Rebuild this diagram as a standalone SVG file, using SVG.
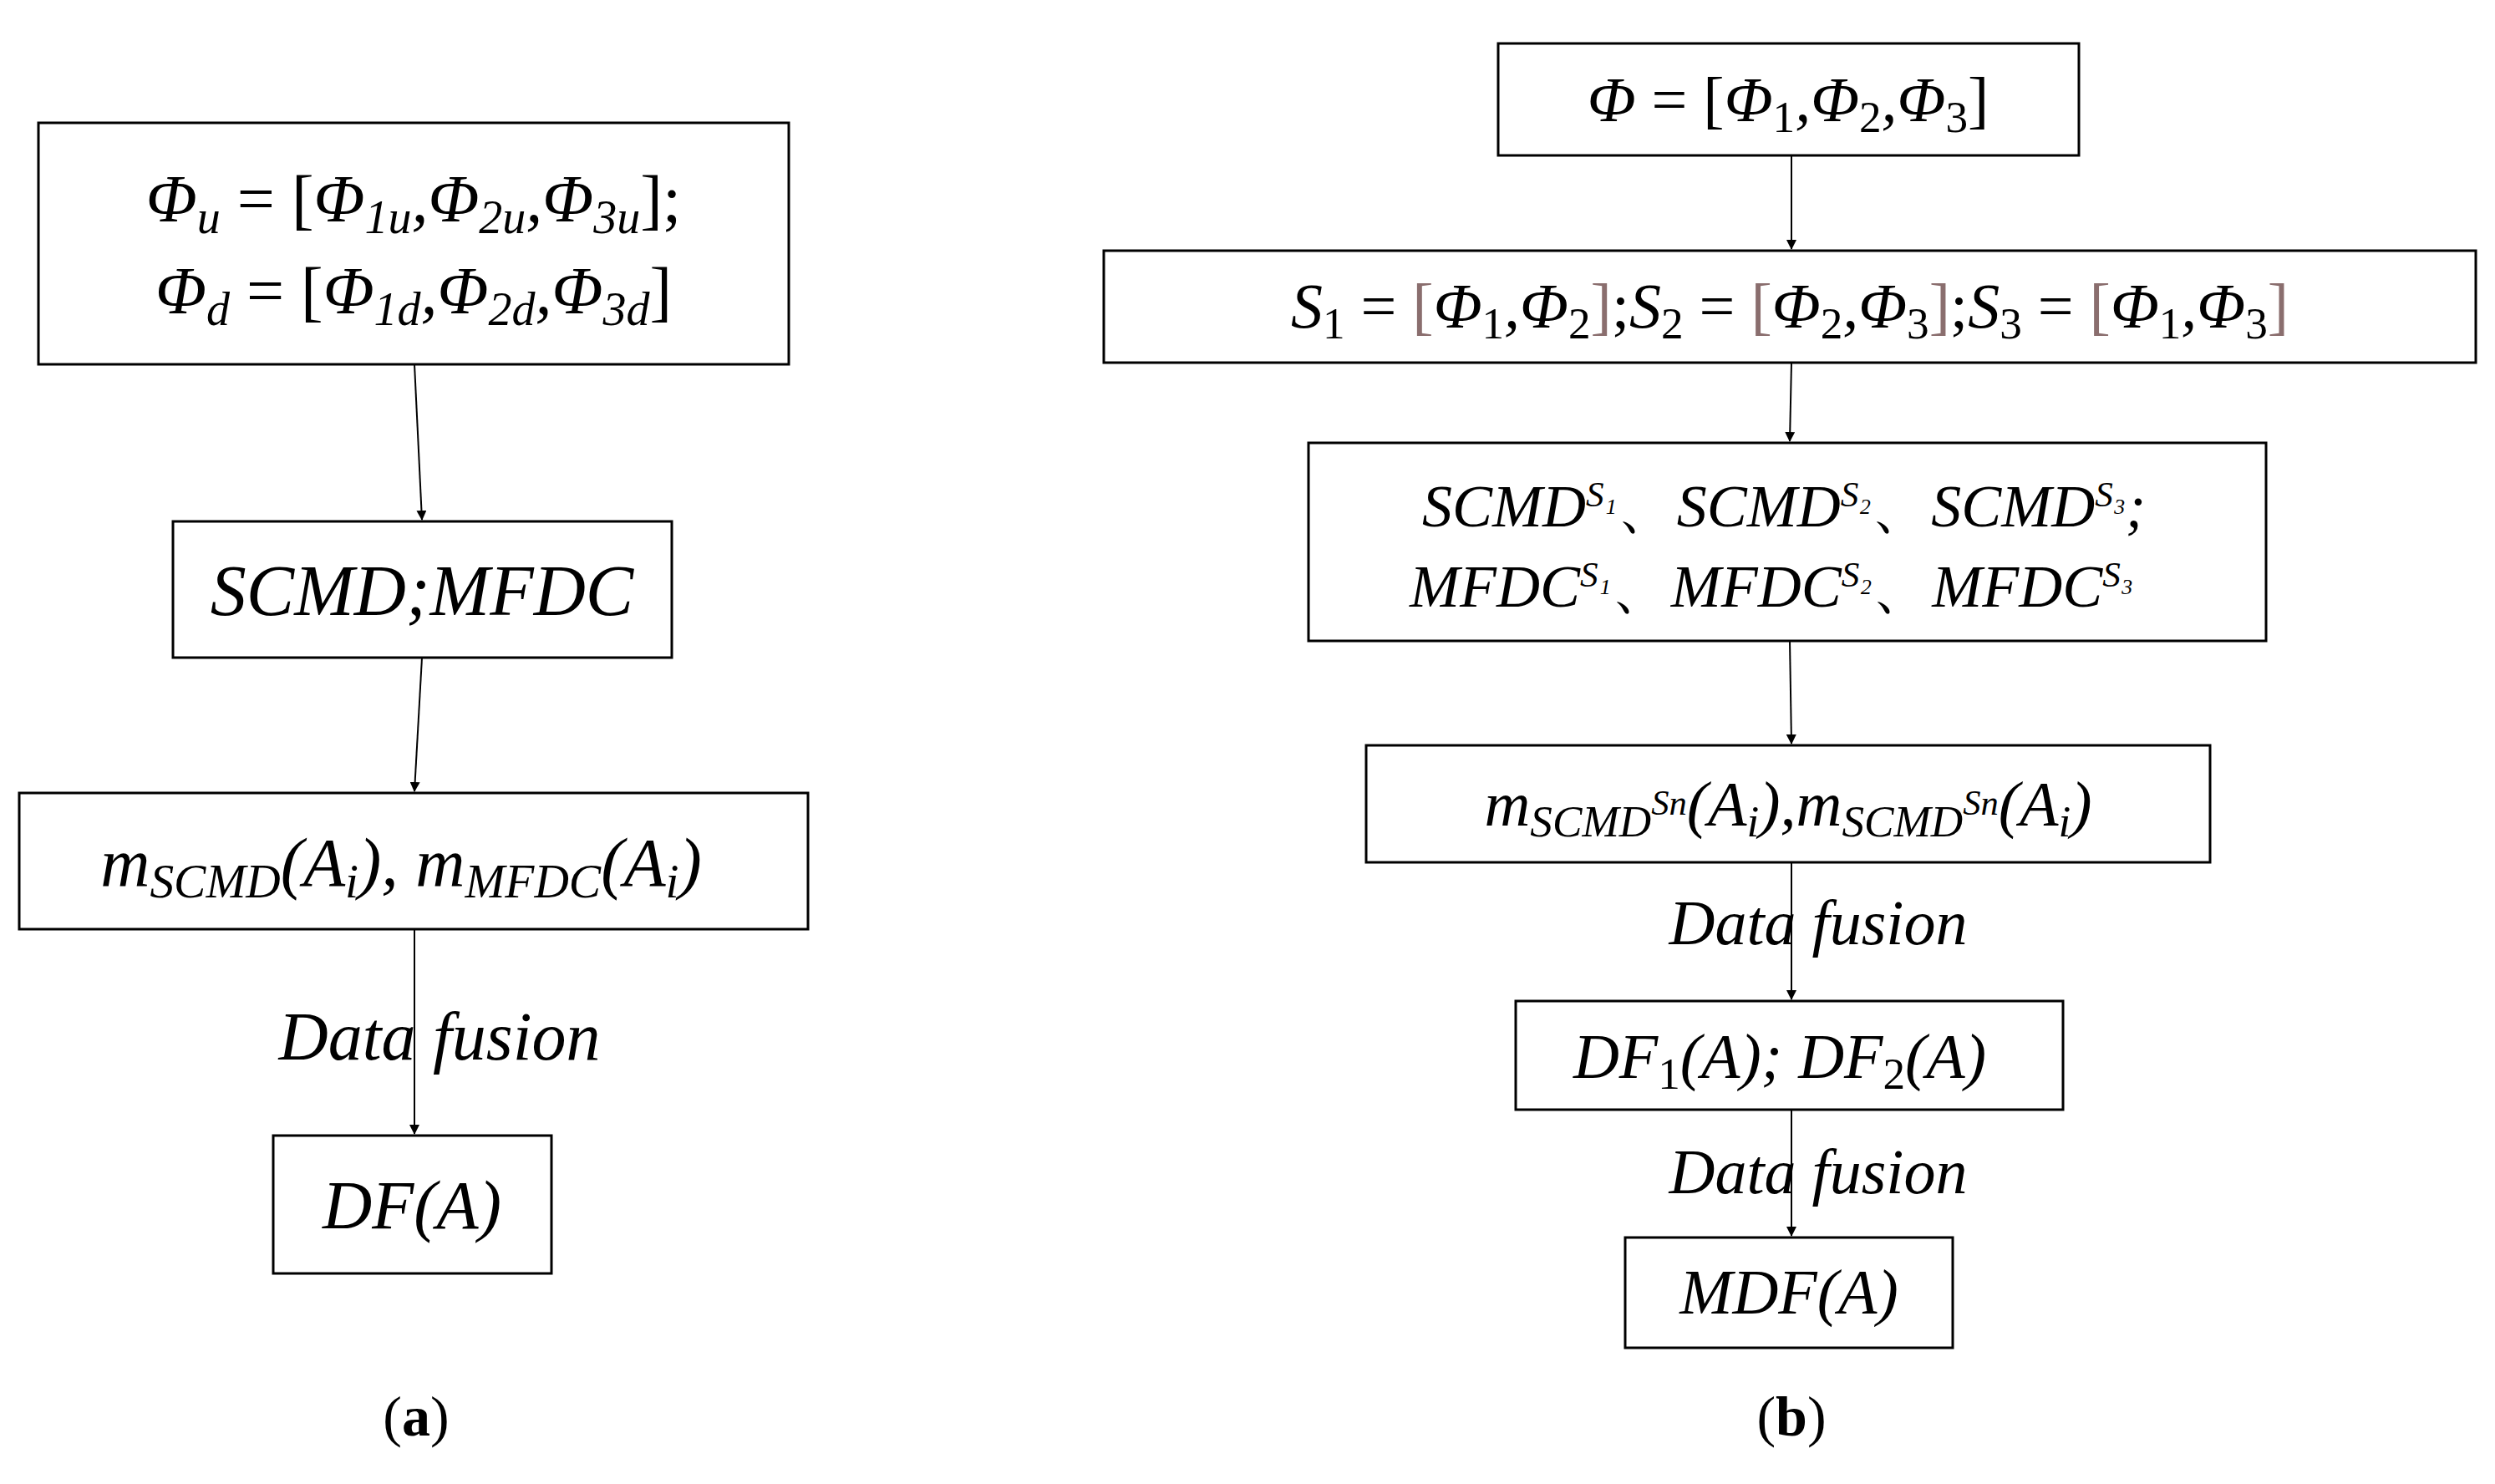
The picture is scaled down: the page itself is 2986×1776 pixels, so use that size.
<svg xmlns="http://www.w3.org/2000/svg" width="2986" height="1776" viewBox="0 0 2986 1776">
<style>
.b{fill:#fff;stroke:#000;stroke-width:3}
.t{font-family:"Liberation Serif",serif;font-style:italic;text-anchor:middle;fill:#000}
.u{font-style:normal}
.sub{font-size:70%;baseline-shift:-25%}
.sup{font-size:60%;baseline-shift:55%}
.br{fill:#8a6e6e;font-style:normal}
.c{stroke:#000;stroke-width:2;fill:none;marker-end:url(#ah)}
.lab{font-family:"Liberation Serif",serif;font-size:68px;text-anchor:middle}
</style>
<defs><marker id="ah" markerWidth="12" markerHeight="12" refX="11" refY="6" orient="auto" markerUnits="userSpaceOnUse" viewBox="0 0 12 12"><path d="M0,0 L12,6 L0,12 z" fill="#000"/></marker></defs>
<rect width="2986" height="1776" fill="#fff"/>
<g id="connectors">
<line class="c" x1="496" y1="436" x2="505" y2="622"/>
<line class="c" x1="505" y1="787" x2="496" y2="947"/>
<line class="c" x1="496" y1="1112" x2="496" y2="1357"/>
<line class="c" x1="2144" y1="186" x2="2144" y2="298"/>
<line class="c" x1="2144" y1="434" x2="2142" y2="528"/>
<line class="c" x1="2142" y1="767" x2="2144" y2="890"/>
<line class="c" x1="2144" y1="1032" x2="2144" y2="1196"/>
<line class="c" x1="2144" y1="1328" x2="2144" y2="1479"/>
<text class="t" x="526" y="1268" font-size="82">Data fusion</text>
<text class="t" x="2176" y="1130" font-size="76">Data fusion</text>
<text class="t" x="2176" y="1428" font-size="76">Data fusion</text>
</g>
<g id="a1"><rect class="b" x="46" y="147" width="898" height="289"/>
<text class="t" x="495" y="265" font-size="80">Φ<tspan class="sub">u</tspan> <tspan class="u">= [</tspan>Φ<tspan class="sub">1u</tspan>,Φ<tspan class="sub">2u</tspan>,Φ<tspan class="sub">3u</tspan><tspan class="u">];</tspan></text>
<text class="t" x="495" y="375" font-size="80">Φ<tspan class="sub">d</tspan> <tspan class="u">= [</tspan>Φ<tspan class="sub">1d</tspan>,Φ<tspan class="sub">2d</tspan>,Φ<tspan class="sub">3d</tspan><tspan class="u">]</tspan></text></g>
<g id="a2"><rect class="b" x="207" y="624" width="597" height="163"/>
<text class="t" x="505" y="736" font-size="86">SCMD;MFDC</text></g>
<g id="a3"><rect class="b" x="23" y="949" width="944" height="163"/>
<text class="t" x="480" y="1060" font-size="82">m<tspan class="sub">SCMD</tspan>(A<tspan class="sub">i</tspan>), m<tspan class="sub">MFDC</tspan>(A<tspan class="sub">i</tspan>)</text></g>
<g id="a4"><rect class="b" x="327" y="1359" width="333" height="165"/>
<text class="t" x="493" y="1470" font-size="82">DF(A)</text></g>
<g id="b1"><rect class="b" x="1793" y="52" width="695" height="134"/>
<text class="t" x="2140" y="145" font-size="76">Φ <tspan class="u">= [</tspan>Φ<tspan class="sub u">1</tspan>,Φ<tspan class="sub u">2</tspan>,Φ<tspan class="sub u">3</tspan><tspan class="u">]</tspan></text></g>
<g id="b2"><rect class="b" x="1321" y="300" width="1642" height="134"/>
<text class="t" x="2142" y="392" font-size="76">S<tspan class="sub u">1</tspan> <tspan class="u">= </tspan><tspan class="br">[</tspan>Φ<tspan class="sub u">1</tspan>,Φ<tspan class="sub u">2</tspan><tspan class="br">]</tspan><tspan class="u">;</tspan>S<tspan class="sub u">2</tspan> <tspan class="u">= </tspan><tspan class="br">[</tspan>Φ<tspan class="sub u">2</tspan>,Φ<tspan class="sub u">3</tspan><tspan class="br">]</tspan><tspan class="u">;</tspan>S<tspan class="sub u">3</tspan> <tspan class="u">= </tspan><tspan class="br">[</tspan>Φ<tspan class="sub u">1</tspan>,Φ<tspan class="sub u">3</tspan><tspan class="br">]</tspan></text></g>
<g id="b3"><rect class="b" x="1566" y="530" width="1146" height="237"/>
<text class="t" x="2135" y="630" font-size="72">SCMD<tspan class="sup">S₁</tspan><tspan class="u">、</tspan>SCMD<tspan class="sup">S₂</tspan><tspan class="u">、</tspan>SCMD<tspan class="sup">S₃</tspan>;</text>
<text class="t" x="2120" y="726" font-size="72">MFDC<tspan class="sup">S₁</tspan><tspan class="u">、</tspan>MFDC<tspan class="sup">S₂</tspan><tspan class="u">、</tspan>MFDC<tspan class="sup">S₃</tspan></text></g>
<g id="b4"><rect class="b" x="1635" y="892" width="1010" height="140"/>
<text class="t" x="2140" y="988" font-size="76">m<tspan class="sub">SCMD<tspan font-size="80%" baseline-shift="60%">Sn</tspan></tspan>(A<tspan class="sub">i</tspan>),m<tspan class="sub">SCMD<tspan font-size="80%" baseline-shift="60%">Sn</tspan></tspan>(A<tspan class="sub">i</tspan>)</text></g>
<g id="b5"><rect class="b" x="1814" y="1198" width="655" height="130"/>
<text class="t" x="2130" y="1290" font-size="76">DF<tspan class="sub u">1</tspan>(A); DF<tspan class="sub u">2</tspan>(A)</text></g>
<g id="b6"><rect class="b" x="1945" y="1481" width="392" height="132"/>
<text class="t" x="2141" y="1572" font-size="76">MDF(A)</text></g>
<text class="lab" x="498" y="1718">(<tspan font-weight="bold">a</tspan>)</text>
<text class="lab" x="2144" y="1718">(<tspan font-weight="bold">b</tspan>)</text>
</svg>
